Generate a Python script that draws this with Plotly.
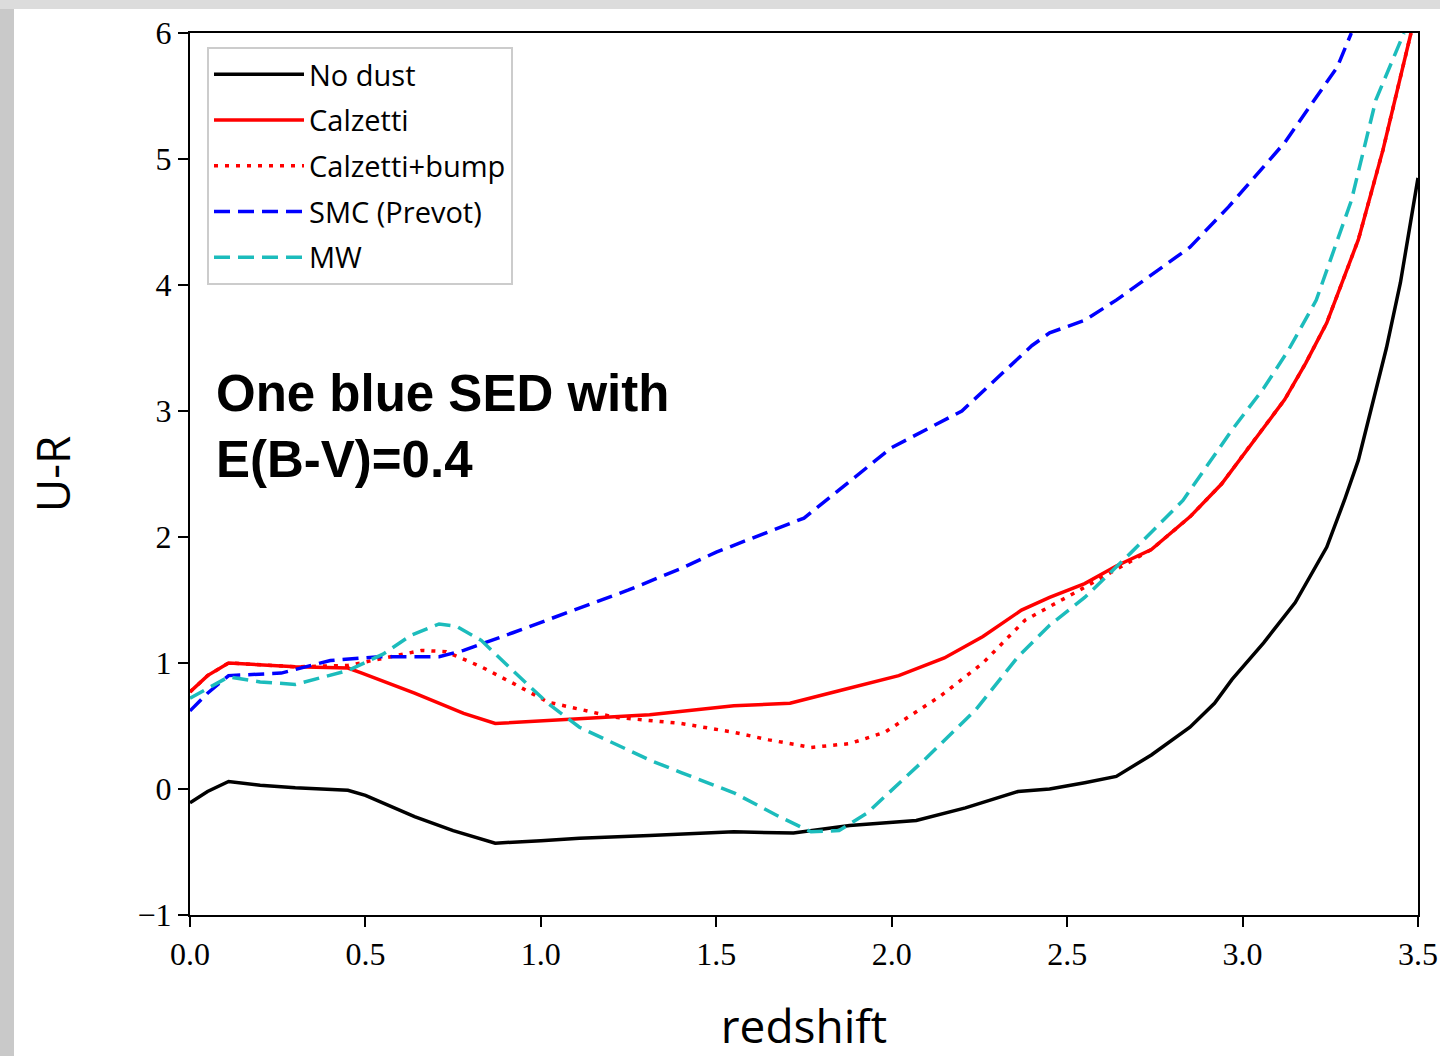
import plotly.graph_objects as go

# ---- data ----
nodust_x = [0, 0.05, 0.11, 0.2, 0.3, 0.45, 0.5, 0.64, 0.75, 0.83, 0.87, 1.0, 1.11, 1.31, 1.55, 1.72,
            1.88, 2.07, 2.21, 2.36, 2.45, 2.55, 2.64, 2.74, 2.85, 2.92, 2.97, 3.06, 3.15, 3.24, 3.29,
            3.33, 3.37, 3.41, 3.45, 3.5]
nodust_y = [-0.11, -0.02, 0.06, 0.03, 0.01, -0.01, -0.05, -0.22, -0.33, -0.40, -0.43, -0.41, -0.39,
            -0.37, -0.34, -0.35, -0.29, -0.25, -0.15, -0.02, 0.0, 0.05, 0.10, 0.27, 0.49, 0.68, 0.87,
            1.16, 1.48, 1.92, 2.29, 2.61, 3.05, 3.5, 4.02, 4.85]

calz_x = [0, 0.05, 0.11, 0.3, 0.45, 0.49, 0.64, 0.78, 0.87, 1.11, 1.31, 1.55, 1.71, 1.85, 2.02, 2.15,
          2.26, 2.37, 2.45, 2.55, 2.64, 2.74, 2.85, 2.94, 3.02, 3.12, 3.18, 3.24, 3.33, 3.4, 3.48]
calz_y = [0.77, 0.9, 1.0, 0.97, 0.96, 0.92, 0.76, 0.60, 0.52, 0.56, 0.59, 0.66, 0.68, 0.78, 0.90, 1.04,
          1.21, 1.42, 1.52, 1.63, 1.77, 1.90, 2.16, 2.42, 2.72, 3.09, 3.38, 3.70, 4.36, 5.07, 6.0]

bump_x = [0, 0.05, 0.11, 0.3, 0.45, 0.54, 0.66, 0.73, 0.83, 0.92, 1.02, 1.21, 1.40, 1.55, 1.65, 1.77,
          1.88, 1.98, 2.14, 2.26, 2.38, 2.53, 2.64, 2.74, 2.85, 2.94, 3.02, 3.12, 3.18, 3.24, 3.33,
          3.4, 3.48]
bump_y = [0.77, 0.9, 1.0, 0.97, 0.98, 1.03, 1.10, 1.09, 0.97, 0.84, 0.69, 0.57, 0.52, 0.45, 0.39, 0.33,
          0.36, 0.45, 0.74, 1.0, 1.34, 1.57, 1.74, 1.90, 2.16, 2.42, 2.72, 3.09, 3.38, 3.70, 4.36,
          5.07, 6.0]

smc_x = [0, 0.05, 0.11, 0.26, 0.4, 0.54, 0.71, 0.78, 0.92, 1.11, 1.25, 1.40, 1.5, 1.75, 2.0, 2.2, 2.4,
         2.45, 2.55, 2.64, 2.85, 2.96, 3.12, 3.21, 3.27, 3.31]
smc_y = [0.62, 0.76, 0.90, 0.92, 1.02, 1.05, 1.05, 1.10, 1.24, 1.44, 1.58, 1.75, 1.88, 2.15, 2.71, 3.0,
         3.52, 3.62, 3.72, 3.88, 4.30, 4.62, 5.13, 5.49, 5.73, 6.0]

mw_x = [0, 0.11, 0.2, 0.3, 0.45, 0.55, 0.63, 0.71, 0.76, 0.83, 0.92, 1.02, 1.11, 1.31, 1.40, 1.55, 1.68,
        1.77, 1.85, 1.93, 2.10, 2.24, 2.36, 2.45, 2.55, 2.68, 2.83, 2.97, 3.06, 3.13, 3.21, 3.31, 3.38,
        3.46]
mw_y = [0.72, 0.89, 0.85, 0.83, 0.94, 1.07, 1.22, 1.31, 1.29, 1.18, 0.94, 0.68, 0.49, 0.23, 0.13, -0.03,
        -0.22, -0.34, -0.33, -0.19, 0.25, 0.63, 1.05, 1.30, 1.52, 1.87, 2.29, 2.85, 3.18, 3.48, 3.88,
        4.67, 5.47, 6.0]

x_ticks = [0, 0.5, 1.0, 1.5, 2.0, 2.5, 3.0, 3.5]
y_ticks = [-1, 0, 1, 2, 3, 4, 5, 6]

LW = 3.5
series = [
    ("No dust", nodust_x, nodust_y, "black", "solid"),
    ("Calzetti", calz_x, calz_y, "#ff0000", "solid"),
    ("Calzetti+bump", bump_x, bump_y, "#ff0000", "4px,7px"),
    ("SMC (Prevot)", smc_x, smc_y, "#0000ff", "16px,8px"),
    ("MW", mw_x, mw_y, "#1cbcbc", "16px,8px"),
]

fig = go.Figure()
for i, (name, xs, ys, col, dash) in enumerate(series):
    fig.add_trace(go.Scatter(x=xs, y=ys, mode="lines", name=name, legendgroup=f"g{i}",
                             line=dict(color=col, width=LW, dash=dash)))

W, H = 1440, 1056
L, R, T, B = 190, 22, 33, 141
pw, ph = W - L - R, H - T - B

def px_x(p):
    return (p - L) / pw

def px_y(p):
    return (H - B - p) / ph

shapes = [
    dict(type="rect", xref="paper", yref="paper", x0=px_x(14), x1=px_x(1440), y0=px_y(1056), y1=px_y(9),
         fillcolor="white", line=dict(width=0), layer="below"),
    dict(type="rect", xref="paper", yref="paper", x0=px_x(0), x1=px_x(14), y0=px_y(1056), y1=px_y(9),
         fillcolor="#c9c9c9", line=dict(width=0), layer="below"),
]

fig.update_layout(
    width=W, height=H,
    margin=dict(l=L, r=R, t=T, b=B, pad=0, autoexpand=False),
    paper_bgcolor="#dcdcdc",
    plot_bgcolor="white",
    shapes=shapes,
    showlegend=True,
    legend=dict(x=px_x(207), y=px_y(47), xanchor="left", yanchor="top",
                bgcolor="white", bordercolor="#cccccc", borderwidth=2,
                font=dict(family="Open Sans", size=29, color="black"),
                itemwidth=90, tracegroupgap=5),
    annotations=[dict(text="<b>One blue SED with<br>E(B-V)=0.4</b>", xref="paper", yref="paper",
                      x=px_x(214), y=px_y(426), xanchor="left", yanchor="middle", align="left",
                      showarrow=False,
                      font=dict(family="Liberation Sans", size=51, color="black"))],
)

axis_common = dict(showline=True, linecolor="black", linewidth=2, mirror=True,
                   ticks="outside", ticklen=10, tickwidth=2, tickcolor="black",
                   showgrid=False, zeroline=False, automargin=False,
                   tickfont=dict(family="Liberation Serif", size=32, color="black"))

fig.update_xaxes(range=[0, 3.5], tickvals=x_ticks, tickformat=".1f",
                 title=dict(text="redshift", font=dict(family="Open Sans", size=46, color="black"),
                            standoff=40),
                 **axis_common)
fig.update_yaxes(range=[-1, 6], tickvals=y_ticks,
                 title=dict(text="U-R", font=dict(family="Open Sans", size=46, color="black"),
                            standoff=52),
                 **axis_common)

fig.write_html("out.html")
